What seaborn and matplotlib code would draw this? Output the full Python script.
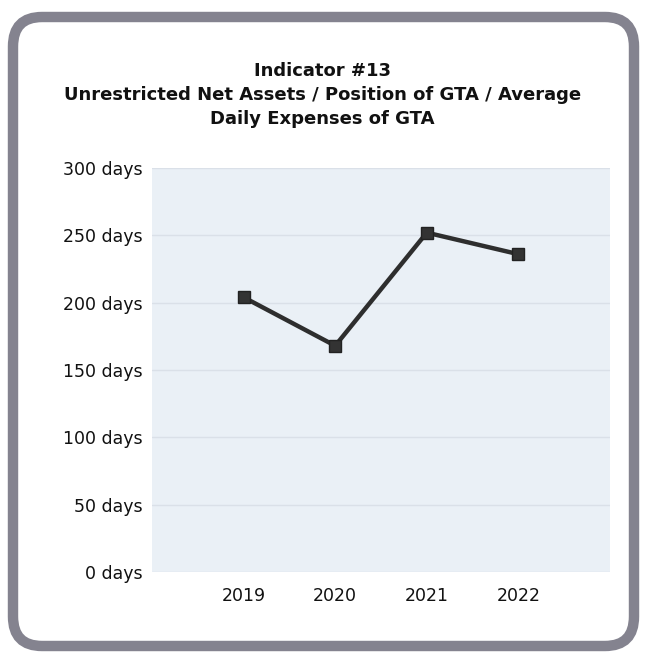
import matplotlib
matplotlib.use('Agg')
import matplotlib.pyplot as plt
import seaborn as sns
import pandas as pd
from matplotlib.patches import FancyBboxPatch

# Veri
years = ['2019', '2020', '2021', '2022']
days = [204, 168, 252, 236]
y_ticks = [0, 50, 100, 150, 200, 250, 300]
y_labels = [f'{v} days' for v in y_ticks]

df = pd.DataFrame({'year': years, 'days': days})

sns.set_theme(style='white')
plt.rcParams['font.family'] = ['DejaVu Sans']

fig = plt.figure(figsize=(6.45, 6.56), dpi=100)
fig.patch.set_facecolor('white')

# Yuvarlak çerçeve
W, H = 645, 656
frame = FancyBboxPatch((13 / W, 10 / H), 621 / W, 629 / H,
                       boxstyle='round,pad=0,rounding_size=0.045',
                       transform=fig.transFigure, facecolor='white',
                       edgecolor='#84838f', linewidth=7.5, zorder=-1)
fig.patches.append(frame)

ax = fig.add_axes([152 / W, 1 - 572 / H, 458 / W, 404 / H])
ax.set_zorder(1)
ax.set_facecolor('#eaf0f6')

ax.plot(range(len(years)), df['days'], color='#2e2e2e', linewidth=3.2,
        marker='s', markersize=8, markerfacecolor='#333333',
        markeredgecolor='#222222', zorder=3)

ax.set_xlim(-1, 4)
ax.set_ylim(0, 300)
ax.set_xticks(range(len(years)))
ax.set_xticklabels(years, fontsize=12.5)
ax.set_yticks(y_ticks)
ax.set_yticklabels(y_labels, fontsize=12.5)
ax.yaxis.grid(True, color='#dae0e8', linewidth=1)
ax.tick_params(axis='both', length=3, color='#c8ccd2', pad=4, labelcolor='#111111')
ax.tick_params(axis='x', pad=8)
for s in ax.spines.values():
    s.set_visible(False)

fig.text(0.5, 1 - 95 / H,
         'Indicator #13\nUnrestricted Net Assets / Position of GTA / Average\nDaily Expenses of GTA',
         ha='center', va='center', fontsize=13, fontweight='bold',
         color='#111111', linespacing=1.45)

fig.savefig('out.png', dpi=100)
